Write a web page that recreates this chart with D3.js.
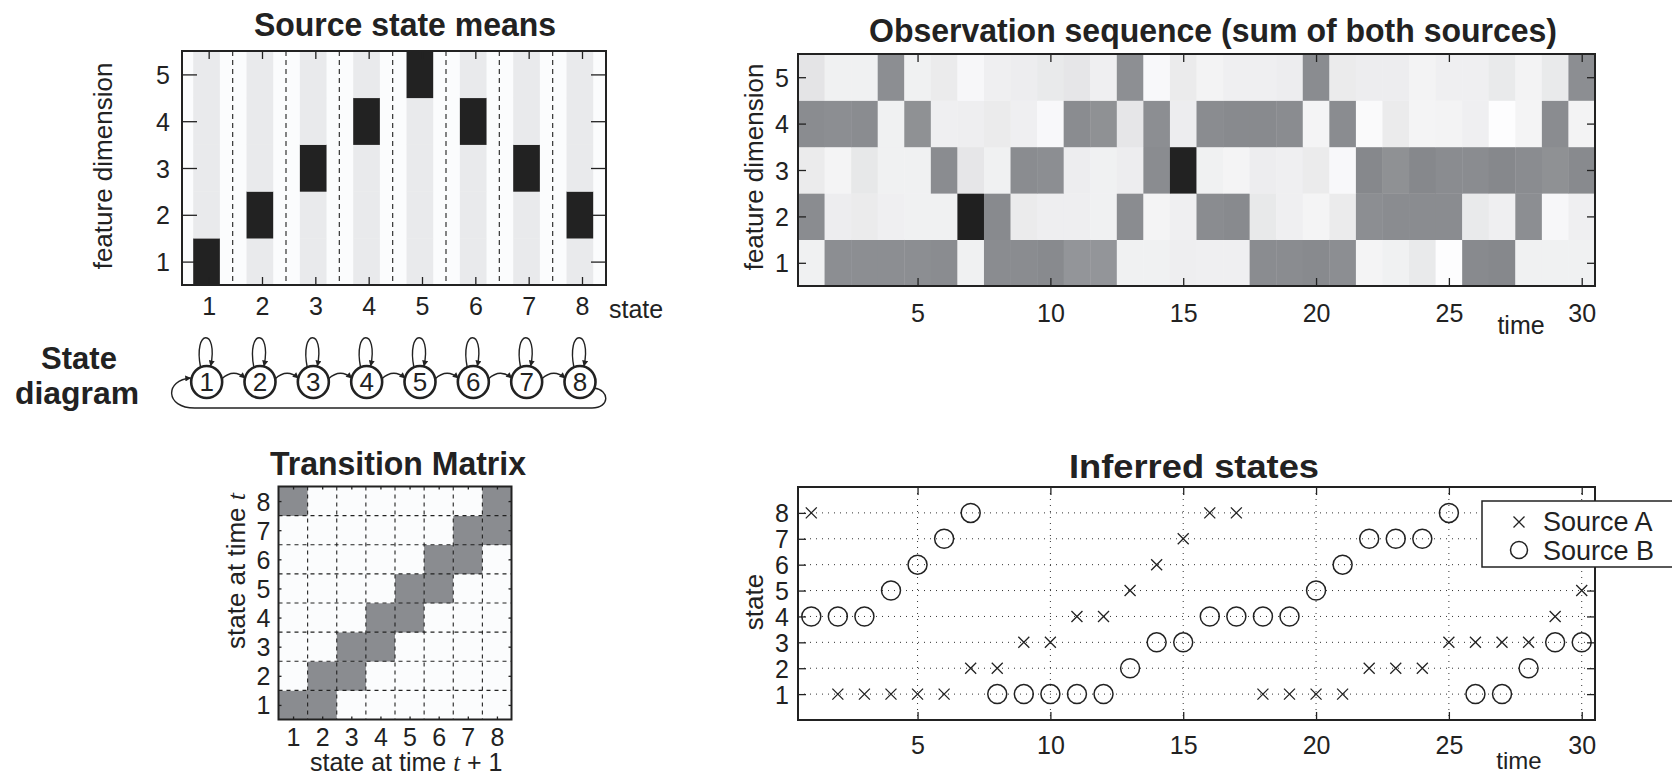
<!DOCTYPE html>
<html>
<head>
<meta charset="utf-8">
<script src="https://cdn.jsdelivr.net/npm/d3@7"></script>
<style>
  body { margin: 0; background: #fff; }
  text { font-family: "Liberation Sans", Arial, sans-serif; fill: #222; }
</style>
</head>
<body>
<script>
// ---- data ----
const states = [1, 2, 3, 4, 5, 6, 7, 8]
const dims = [1, 2, 3, 4, 5]
// feature dimension that each state's mean lights up
const stateMeanDim = [1, 2, 3, 4, 5, 4, 3, 2]

const timeTicks = [5, 10, 15, 20, 25, 30]

// observation sequence, one array per feature dimension (t = 1..30)
const obsDim1 = [0.11, 0.98, 0.98, 0.98, 0.98, 1.0, 0.11, 1.0, 1.0, 1.02, 0.92, 0.92, 0.11, 0.11, 0.13,
                 0.12, 0.12, 1.0, 1.0, 1.02, 0.98, 0.08, 0.11, 0.17, 0.0, 1.02, 1.04, 0.11, 0.11, 0.11]
const obsDim2 = [1.0, 0.14, 0.16, 0.12, 0.11, 0.11, 2.0, 1.02, 0.16, 0.13, 0.13, 0.11, 1.0, 0.08, 0.12,
                 1.0, 1.02, 0.18, 0.12, 0.08, 0.16, 0.98, 1.0, 1.0, 1.0, 0.17, 0.12, 0.98, 0.05, 0.12]
const obsDim3 = [0.16, 0.08, 0.19, 0.11, 0.11, 1.0, 0.2, 0.11, 1.0, 0.98, 0.14, 0.11, 0.14, 1.0, 1.98,
                 0.11, 0.08, 0.14, 0.12, 0.16, 0.04, 1.04, 0.96, 1.04, 1.0, 1.0, 1.04, 1.0, 0.96, 1.02]
const obsDim4 = [1.0, 0.98, 1.0, 0.11, 0.96, 0.12, 0.13, 0.16, 0.12, 0.04, 1.0, 0.96, 0.2, 0.98, 0.14,
                 1.0, 1.02, 1.02, 1.0, 0.08, 1.0, 0.03, 0.16, 0.08, 0.09, 0.12, 0.0, 0.08, 1.0, 0.09]
const obsDim5 = [0.22, 0.11, 0.11, 0.98, 0.11, 0.16, 0.05, 0.12, 0.14, 0.17, 0.2, 0.12, 0.97, 0.04, 0.16,
                 0.09, 0.12, 0.12, 0.14, 1.0, 0.16, 0.14, 0.14, 0.09, 0.12, 0.12, 0.17, 0.09, 0.17, 0.98]

// transition matrix, row = state at time t, column = state at time t+1
const transition = [
  [0.5, 0.5, 0, 0, 0, 0, 0, 0],
  [0, 0.5, 0.5, 0, 0, 0, 0, 0],
  [0, 0, 0.5, 0.5, 0, 0, 0, 0],
  [0, 0, 0, 0.5, 0.5, 0, 0, 0],
  [0, 0, 0, 0, 0.5, 0.5, 0, 0],
  [0, 0, 0, 0, 0, 0.5, 0.5, 0],
  [0, 0, 0, 0, 0, 0, 0.5, 0.5],
  [0.5, 0, 0, 0, 0, 0, 0, 0.5]
]

// inferred states per time step
const sourceA = [8, 1, 1, 1, 1, 1, 2, 2, 3, 3, 4, 4, 5, 6, 7, 8, 8, 1, 1, 1, 1, 2, 2, 2, 3, 3, 3, 3, 4, 5]
const sourceB = [4, 4, 4, 5, 6, 7, 8, 1, 1, 1, 1, 1, 2, 3, 3, 4, 4, 4, 4, 5, 6, 7, 7, 7, 8, 1, 1, 2, 3, 3]

// ---- drawing ----
const ink = '#222'
const svg = d3.select('body').append('svg').attr('width', 1672).attr('height', 775)

const defs = svg.append('defs')
defs.append('marker')
  .attr('id', 'head')
  .attr('viewBox', '0 0 10 10')
  .attr('refX', 9).attr('refY', 5)
  .attr('markerUnits', 'userSpaceOnUse')
  .attr('markerWidth', 7).attr('markerHeight', 6)
  .attr('orient', 'auto')
  .append('path').attr('d', 'M0,0L10,5L0,10z').attr('fill', ink)

const crossPath = 'M-5.5,-5.5L5.5,5.5M-5.5,5.5L5.5,-5.5'

// box with inward ticks on all four sides, labels on bottom/left
function addAxes(g, x, y, o) {
  const [l, r] = x.range()
  const [b, t] = y.range()
  const sides = [
    [d3.axisBottom(x), 0, b, o.xTicks, o.xLen, true],
    [d3.axisTop(x), 0, t, o.xTicks, o.xLen, false],
    [d3.axisLeft(y), l, 0, o.yTicks, o.yLen, true],
    [d3.axisRight(y), r, 0, o.yTicks, o.yLen, false]
  ]
  sides.forEach(([ax, tx, ty, vals, len, lab], k) => {
    const a = g.append('g')
      .attr('transform', `translate(${tx},${ty})`)
      .call(ax.tickValues(vals).tickSize(-len).tickSizeOuter(0).tickFormat(lab ? d => d : ''))
    a.select('.domain').remove()
    a.selectAll('line').attr('stroke', ink).attr('stroke-width', 1.3)
    a.attr('font-size', 25)
    if (lab && k === 0) a.selectAll('text').attr('dy', null).attr('y', o.xOff)
    if (lab && k === 2) a.selectAll('text').attr('dy', '0.36em').attr('x', -o.yPad)
  })
  g.append('rect')
    .attr('x', l).attr('y', t)
    .attr('width', r - l).attr('height', b - t)
    .attr('fill', 'none').attr('stroke', ink).attr('stroke-width', 2)
}

function title(txt, cx, base, len) {
  svg.append('text')
    .attr('x', cx).attr('y', base)
    .attr('text-anchor', 'middle')
    .attr('font-size', 34).attr('font-weight', 'bold')
    .attr('textLength', len).attr('lengthAdjust', 'spacingAndGlyphs')
    .text(txt)
}

function yLabel(txt, x, cy) {
  return svg.append('text')
    .attr('transform', `translate(${x},${cy}) rotate(-90)`)
    .attr('text-anchor', 'middle')
    .attr('font-size', 26)
    .text(txt)
}

// ===== Source state means =====
const xs = d3.scaleLinear().domain([0.5, 8.45]).range([182, 606])
const ys = d3.scaleLinear().domain([0.5, 5.5]).range([285, 51])
const p1 = svg.append('g')

p1.append('rect')
  .attr('x', 182).attr('y', 51).attr('width', 424).attr('height', 234)
  .attr('fill', '#fbfcfd')

const meanCells = []
states.forEach((s, i) => dims.forEach(d => meanCells.push({ s, d, on: stateMeanDim[i] === d })))

p1.selectAll('rect.mean')
  .data(meanCells)
  .join('rect')
  .attr('class', 'mean')
  .attr('x', d => xs(d.s - 0.29))
  .attr('width', xs(1.21) - xs(0.71))
  .attr('y', d => ys(d.d + 0.5))
  .attr('height', ys(0.5) - ys(1.5) + 0.3)
  .attr('fill', d => d.on ? '#222' : '#e9eaec')

p1.selectAll('line.sep')
  .data(states.slice(0, 7))
  .join('line')
  .attr('class', 'sep')
  .attr('x1', d => xs(d + 0.45)).attr('x2', d => xs(d + 0.45))
  .attr('y1', 51).attr('y2', 285)
  .attr('stroke', '#333').attr('stroke-width', 1.2)
  .attr('stroke-dasharray', '5,4')

addAxes(p1, xs, ys, { xTicks: states, yTicks: dims, xLen: 8, yLen: 15, xOff: 30, yPad: 12 })
title('Source state means', 405, 36, 302)
yLabel('feature dimension', 112, 166)
svg.append('text').attr('x', 609).attr('y', 318).attr('font-size', 25).text('state')

// ===== State diagram =====
const sd = svg.append('g')
const cy = 382
const cxOf = s => xs(s) - 2

svg.append('text').attr('x', 79).attr('y', 369).attr('text-anchor', 'middle')
  .attr('font-size', 31).attr('font-weight', 'bold').text('State')
svg.append('text').attr('x', 77).attr('y', 404).attr('text-anchor', 'middle')
  .attr('font-size', 31).attr('font-weight', 'bold')
  .attr('textLength', 124).attr('lengthAdjust', 'spacingAndGlyphs').text('diagram')

// self loops
sd.selectAll('path.loop')
  .data(states)
  .join('path')
  .attr('class', 'loop')
  .attr('d', s => {
    const c = cxOf(s)
    return `M${c - 6},${cy - 14} C${c - 14},${cy - 54} ${c + 12},${cy - 54} ${c + 4},${cy - 16}`
  })
  .attr('fill', 'none').attr('stroke', ink).attr('stroke-width', 1.4)
  .attr('marker-end', 'url(#head)')

// forward transitions
sd.selectAll('path.step')
  .data(states.slice(0, 7))
  .join('path')
  .attr('class', 'step')
  .attr('d', s => {
    const a = cxOf(s) + 15, b = cxOf(s + 1) - 15
    return `M${a},${cy - 3} Q${(a + b) / 2},${cy - 14} ${b},${cy - 4}`
  })
  .attr('fill', 'none').attr('stroke', ink).attr('stroke-width', 1.4)
  .attr('marker-end', 'url(#head)')

// wrap-around 8 -> 1
{
  const c8 = cxOf(8), c1 = cxOf(1)
  sd.append('path')
    .attr('d', `M${c8 + 14},${cy + 6} C${c8 + 30},${cy + 8} ${c8 + 30},${cy + 26} ${c8 + 12},${cy + 26}` +
               ` L${c1 - 12},${cy + 26} C${c1 - 42},${cy + 26} ${c1 - 42},${cy - 2} ${c1 - 16},${cy - 4}`)
    .attr('fill', 'none').attr('stroke', ink).attr('stroke-width', 1.4)
    .attr('marker-end', 'url(#head)')
}

sd.selectAll('ellipse')
  .data(states)
  .join('ellipse')
  .attr('cx', cxOf).attr('cy', cy)
  .attr('rx', 15.5).attr('ry', 16)
  .attr('fill', '#fff').attr('stroke', ink).attr('stroke-width', 2.6)

sd.selectAll('text.node')
  .data(states)
  .join('text')
  .attr('class', 'node')
  .attr('x', cxOf).attr('y', cy + 9)
  .attr('text-anchor', 'middle')
  .attr('font-size', 26)
  .text(d => d)

// ===== Observation sequence =====
const xt = d3.scaleLinear().domain([0.5, 30.5]).range([798, 1595])
const yo = d3.scaleLinear().domain([0.5, 5.5]).range([286, 54])
const obsColor = d3.scaleLinear().domain([0, 1, 2]).range(['#fdfdfe', '#8a8c90', '#202020'])
const p2 = svg.append('g')

const obsCells = []
;[obsDim1, obsDim2, obsDim3, obsDim4, obsDim5].forEach((row, di) =>
  row.forEach((v, ti) => obsCells.push({ t: ti + 1, d: di + 1, v })))

p2.selectAll('rect.obs')
  .data(obsCells)
  .join('rect')
  .attr('class', 'obs')
  .attr('x', d => xt(d.t - 0.5))
  .attr('width', xt(1.5) - xt(0.5) + 0.4)
  .attr('y', d => yo(d.d + 0.5))
  .attr('height', yo(0.5) - yo(1.5) + 0.4)
  .attr('fill', d => obsColor(d.v))

addAxes(p2, xt, yo, { xTicks: timeTicks, yTicks: dims, xLen: 8, yLen: 8, xOff: 36, yPad: 9 })
title('Observation sequence (sum of both sources)', 1213, 42, 688)
yLabel('feature dimension', 763, 167)
svg.append('text').attr('x', 1521).attr('y', 334).attr('text-anchor', 'middle').attr('font-size', 25).text('time')

// ===== Transition Matrix =====
const xm = d3.scaleLinear().domain([0.5, 8.5]).range([278.5, 511.5])
const ym = d3.scaleLinear().domain([0.5, 8.5]).range([719.5, 486.5])
const transColor = d3.scaleLinear().domain([0, 0.5]).range(['#fbfcfd', '#8a8c90'])
const p3 = svg.append('g')

const transCells = []
transition.forEach((row, i) => row.forEach((p, j) => transCells.push({ from: i + 1, to: j + 1, p })))

p3.selectAll('rect.tm')
  .data(transCells)
  .join('rect')
  .attr('class', 'tm')
  .attr('x', d => xm(d.to - 0.5))
  .attr('width', xm(1.5) - xm(0.5) + 0.3)
  .attr('y', d => ym(d.from + 0.5))
  .attr('height', ym(0.5) - ym(1.5) + 0.3)
  .attr('fill', d => transColor(d.p))

const gridAt = states.slice(0, 7).map(s => s + 0.5)
p3.selectAll('line.gv')
  .data(gridAt)
  .join('line')
  .attr('class', 'gv')
  .attr('x1', d => xm(d)).attr('x2', d => xm(d))
  .attr('y1', ym(8.5)).attr('y2', ym(0.5))
p3.selectAll('line.gh')
  .data(gridAt)
  .join('line')
  .attr('class', 'gh')
  .attr('y1', d => ym(d)).attr('y2', d => ym(d))
  .attr('x1', xm(0.5)).attr('x2', xm(8.5))
p3.selectAll('line.gv, line.gh')
  .attr('stroke', ink).attr('stroke-width', 1.1).attr('stroke-dasharray', '4,4')

addAxes(p3, xm, ym, { xTicks: states, yTicks: states, xLen: 3, yLen: 3, xOff: 26, yPad: 8 })
title('Transition Matrix', 398, 475, 256)

const tl = yLabel('state at time ', 245, 571)
tl.append('tspan').attr('font-family', 'Liberation Serif').attr('font-style', 'italic').text('t')
const bl = svg.append('text').attr('x', 310).attr('y', 771).attr('font-size', 25).text('state at time ')
bl.append('tspan').attr('font-family', 'Liberation Serif').attr('font-style', 'italic').text('t')
bl.append('tspan').text(' + 1')

// ===== Inferred states =====
const yi = d3.scaleLinear().domain([0, 9]).range([720, 487])
const p4 = svg.append('g')

p4.selectAll('line.hg')
  .data(states)
  .join('line')
  .attr('class', 'hg')
  .attr('x1', 798).attr('x2', 1595)
  .attr('y1', d => yi(d)).attr('y2', d => yi(d))
p4.selectAll('line.vg')
  .data(timeTicks)
  .join('line')
  .attr('class', 'vg')
  .attr('x1', d => xt(d)).attr('x2', d => xt(d))
  .attr('y1', 487).attr('y2', 720)
p4.selectAll('line.hg, line.vg')
  .attr('stroke', '#333').attr('stroke-width', 1).attr('stroke-dasharray', '1,5')

p4.selectAll('path.a')
  .data(sourceA)
  .join('path')
  .attr('class', 'a')
  .attr('transform', (d, i) => `translate(${xt(i + 1)},${yi(d)})`)
  .attr('d', crossPath)
  .attr('stroke', ink).attr('stroke-width', 1.3)

p4.selectAll('circle.b')
  .data(sourceB)
  .join('circle')
  .attr('class', 'b')
  .attr('cx', (d, i) => xt(i + 1)).attr('cy', d => yi(d))
  .attr('r', 9.5)
  .attr('fill', 'none').attr('stroke', ink).attr('stroke-width', 1.5)

addAxes(p4, xt, yi, { xTicks: timeTicks, yTicks: states, xLen: 8, yLen: 8, xOff: 34, yPad: 9 })
title('Inferred states', 1194, 478, 250)
yLabel('state', 763, 602)
svg.append('text').attr('x', 1519).attr('y', 769).attr('text-anchor', 'middle').attr('font-size', 24).text('time')

// legend
const lg = svg.append('g')
lg.append('rect')
  .attr('x', 1482).attr('y', 501).attr('width', 230).attr('height', 66)
  .attr('fill', '#fff').attr('stroke', ink).attr('stroke-width', 1.5)
lg.append('path').attr('transform', 'translate(1519,522)').attr('d', crossPath)
  .attr('stroke', ink).attr('stroke-width', 1.3)
lg.append('circle').attr('cx', 1519).attr('cy', 550).attr('r', 8.5)
  .attr('fill', 'none').attr('stroke', ink).attr('stroke-width', 1.5)
lg.append('text').attr('x', 1543).attr('y', 531).attr('font-size', 27).text('Source A')
lg.append('text').attr('x', 1543).attr('y', 560).attr('font-size', 27).text('Source B')
</script>
</body>
</html>
